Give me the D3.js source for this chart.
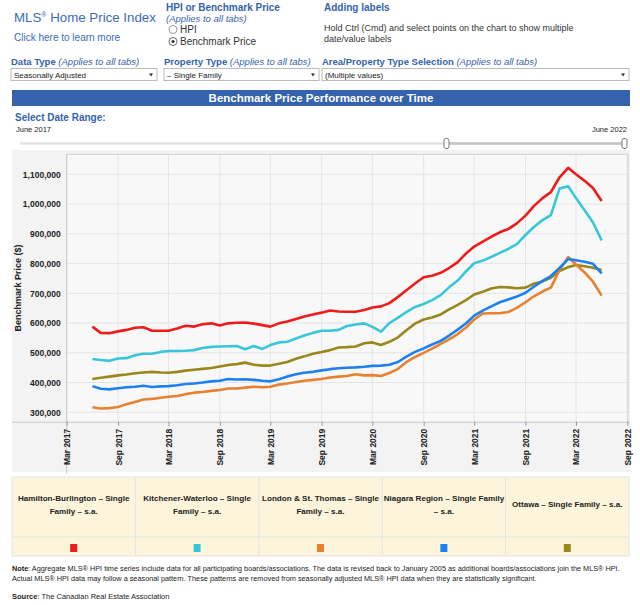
<html>
<head>
  <meta charset="utf-8">
  <title>MLS Home Price Index</title>
  <style>
    body { margin: 0; padding: 0; background: #ffffff; font-family: 'Liberation Sans', Arial, sans-serif; }
    svg text { font-family: 'Liberation Sans', Arial, sans-serif; }
  </style>
  <script src="https://d3js.org/d3.v7.min.js"></script>
</head>
<body>
  <div id="chart"></div>
  <script>
    // monthly benchmark prices, June 2017 to June 2022 (thousands of $)
    const startMonth = new Date(2017, 5, 1);
    const endMonth = new Date(2022, 6, 1);

    const hamilton = [588,567,566,572,577,584,586,574,574,574,582,591,588,596,599,592,599,601,
      602,598,593,588,599,605,614,622,629,635,642,639,638,638,644,652,656,
      667,688,710,733,754,759,769,785,805,835,857,874,890,905,916,
      935,961,993,1020,1040,1090,1122,1100,1078,1054,1010];
    const kitchener = [479,476,473,481,482,492,497,497,503,506,506,507,509,516,520,521,522,523,
      512,523,513,526,535,537,548,558,567,574,574,577,590,595,599,587,571,
      600,618,637,654,664,677,694,720,743,775,801,810,822,836,849,
      865,896,923,946,963,1052,1060,1020,979,938,878];
    const london = [317,313,314,318,327,335,343,345,349,352,355,361,366,368,372,375,380,380,
      383,386,384,386,393,397,402,406,409,412,417,420,422,428,424,425,422,
      432,446,469,486,500,514,530,545,563,586,612,632,633,633,637,
      651,670,690,706,719,778,822,797,770,739,692];
    const niagara = [388,379,377,381,384,386,389,385,387,388,391,395,397,400,404,406,412,410,
      411,409,406,404,411,420,428,433,436,441,445,448,450,451,453,456,457,
      460,469,487,503,515,528,540,558,578,600,625,642,656,670,679,
      689,702,722,742,758,785,815,811,806,799,767];
    const ottawa = [412,416,420,424,427,431,434,436,434,433,436,440,443,446,449,454,459,462,
      467,460,457,457,463,469,480,488,497,503,509,518,519,521,532,535,526,
      537,552,576,598,612,619,629,646,661,678,696,705,716,721,720,
      717,719,732,740,752,775,788,795,791,786,778];

    const seriesNames = [
      ['Hamilton-Burlington \u2013 Single', 'Family \u2013 s.a.'],
      ['Kitchener-Waterloo \u2013 Single', 'Family \u2013 s.a.'],
      ['London & St. Thomas \u2013 Single', 'Family \u2013 s.a.'],
      ['Niagara Region \u2013 Single Family', '\u2013 s.a.'],
      ['Ottawa \u2013 Single Family \u2013 s.a.']
    ];
    const seriesColors = ['#ee1b1b', '#38c6d9', '#e8812f', '#1c80f2', '#9a861a'];
    const yTicks = [300000, 400000, 500000, 600000, 700000, 800000, 900000, 1000000, 1100000];
    const xTickMonths = ['2017-03', '2017-09', '2018-03', '2018-09', '2019-03', '2019-09',
      '2020-03', '2020-09', '2021-03', '2021-09', '2022-03', '2022-09'];

    const blue = '#3363ad';
    const W = 640, H = 605;

    const svg = d3.select('#chart').append('svg')
      .attr('width', W).attr('height', H);

    // ---------- header controls ----------
    svg.append('text').attr('x', 14).attr('y', 22)
      .attr('fill', '#3a6cb4').attr('font-size', 13.3)
      .html('MLS<tspan font-size="7" dy="-5">\u00AE</tspan><tspan dy="5"> Home Price Index</tspan>');
    svg.append('text').attr('x', 14).attr('y', 41).attr('fill', '#3a6cb4')
      .attr('font-size', 10).text('Click here to learn more');

    svg.append('text').attr('x', 166).attr('y', 11).attr('fill', blue)
      .attr('font-size', 10).attr('font-weight', 'bold').text('HPI or Benchmark Price');
    svg.append('text').attr('x', 166).attr('y', 22).attr('fill', blue)
      .attr('font-size', 9.5).attr('font-style', 'italic').text('(Applies to all tabs)');
    svg.append('circle').attr('cx', 173).attr('cy', 29.5).attr('r', 4)
      .attr('fill', '#fff').attr('stroke', '#999');
    svg.append('text').attr('x', 180).attr('y', 33).attr('fill', '#333')
      .attr('font-size', 10).text('HPI');
    svg.append('circle').attr('cx', 173).attr('cy', 41.5).attr('r', 4)
      .attr('fill', '#fff').attr('stroke', '#666');
    svg.append('circle').attr('cx', 173).attr('cy', 41.5).attr('r', 1.6).attr('fill', '#333');
    svg.append('text').attr('x', 180).attr('y', 45).attr('fill', '#333')
      .attr('font-size', 10).text('Benchmark Price');

    svg.append('text').attr('x', 324).attr('y', 11).attr('fill', blue)
      .attr('font-size', 10).attr('font-weight', 'bold').text('Adding labels');
    svg.append('text').attr('x', 324).attr('y', 31).attr('fill', '#333')
      .attr('font-size', 9).text('Hold Ctrl (Cmd) and select points on the chart to show multiple');
    svg.append('text').attr('x', 324).attr('y', 42).attr('fill', '#333')
      .attr('font-size', 9).text('date/value labels');

    const dropdowns = [
      { x: 11, w: 146, label: 'Data Type', value: 'Seasonally Adjusted' },
      { x: 164, w: 155, label: 'Property Type', value: '\u2013 Single Family' },
      { x: 322, w: 307, label: 'Area/Property Type Selection', value: '(Multiple values)' }
    ];
    dropdowns.forEach(d => {
      const t = svg.append('text').attr('x', d.x).attr('y', 65).attr('font-size', 9.5).attr('fill', blue);
      t.append('tspan').attr('font-weight', 'bold').text(d.label + ' ');
      t.append('tspan').attr('font-style', 'italic').text('(Applies to all tabs)');
      svg.append('rect').attr('x', d.x).attr('y', 68.5).attr('width', d.w).attr('height', 12)
        .attr('fill', '#fff').attr('stroke', '#bbb');
      svg.append('text').attr('x', d.x + 3).attr('y', 77.5).attr('font-size', 8)
        .attr('fill', '#222').text(d.value);
      svg.append('path')
        .attr('d', `M${d.x + d.w - 8},73.5 l4,0 l-2,3 z`).attr('fill', '#333');
    });

    // title bar
    svg.append('rect').attr('x', 12).attr('y', 90).attr('width', 618).attr('height', 16)
      .attr('fill', '#3462ad');
    svg.append('text').attr('x', 321).attr('y', 102).attr('text-anchor', 'middle')
      .attr('fill', '#fff').attr('font-size', 11.5).attr('font-weight', 'bold')
      .text('Benchmark Price Performance over Time');

    // date range slider
    svg.append('text').attr('x', 15).attr('y', 121).attr('fill', blue)
      .attr('font-size', 10).attr('font-weight', 'bold').text('Select Date Range:');
    svg.append('text').attr('x', 16).attr('y', 132).attr('fill', '#222')
      .attr('font-size', 7.5).text('June 2017');
    svg.append('text').attr('x', 627).attr('y', 132).attr('text-anchor', 'end').attr('fill', '#222')
      .attr('font-size', 7.5).text('June 2022');
    svg.append('line').attr('x1', 20).attr('x2', 625).attr('y1', 143.5).attr('y2', 143.5)
      .attr('stroke', '#e2e2e2').attr('stroke-width', 2.5);
    svg.append('line').attr('x1', 447).attr('x2', 623).attr('y1', 143.5).attr('y2', 143.5)
      .attr('stroke', '#c4c4c4').attr('stroke-width', 2.5);
    [444, 622].forEach(hx => {
      svg.append('rect').attr('x', hx).attr('y', 138.5).attr('width', 5).attr('height', 10)
        .attr('rx', 2).attr('fill', '#fff').attr('stroke', '#777');
    });

    // ---------- chart ----------
    const plot = { left: 66.7, right: 628, top: 154.3, bottom: 421.7 };

    svg.append('rect').attr('x', 12).attr('y', 150).attr('width', 618).attr('height', 322)
      .attr('fill', '#f3f3f3');
    svg.append('rect').attr('x', plot.left).attr('y', plot.top)
      .attr('width', plot.right - plot.left).attr('height', plot.bottom - plot.top)
      .attr('fill', '#f8f8f8');

    const parseMonth = d3.timeParse('%Y-%m');
    const xTicks = xTickMonths.map(parseMonth);

    const x = d3.scaleTime()
      .domain([xTicks[0], xTicks[xTicks.length - 1]])
      .range([plot.left, 627.3]);
    const y = d3.scaleLinear()
      .domain([300000, 1100000])
      .range([412.3, 174.3]);

    svg.append('g').selectAll('line').data(yTicks).join('line')
      .attr('x1', plot.left).attr('x2', plot.right)
      .attr('y1', d => y(d)).attr('y2', d => y(d))
      .attr('stroke', '#e4e4e4');
    svg.append('g').selectAll('line').data(xTicks).join('line')
      .attr('x1', d => x(d)).attr('x2', d => x(d))
      .attr('y1', plot.top).attr('y2', plot.bottom)
      .attr('stroke', '#e4e4e4');

    // frame
    svg.append('path')
      .attr('d', `M${plot.left},${plot.top}H${plot.right}V${plot.bottom}`)
      .attr('fill', 'none').attr('stroke', '#d0d0d0');

    const yAxis = svg.append('g')
      .attr('transform', `translate(${plot.left},0)`)
      .call(d3.axisLeft(y).tickValues(yTicks).tickFormat(d3.format(',')).tickSize(0).tickPadding(6));
    yAxis.select('.domain').remove();
    yAxis.selectAll('text').attr('font-size', 8.5).attr('font-weight', 'bold').attr('fill', '#222')
      .style('font-family', "'Liberation Sans', Arial, sans-serif");
    svg.append('line').attr('x1', plot.left).attr('x2', plot.left)
      .attr('y1', plot.top).attr('y2', 474).attr('stroke', '#c8c8c8');

    const xAxis = svg.append('g')
      .attr('transform', `translate(0,${plot.bottom})`)
      .call(d3.axisBottom(x).tickValues(xTicks).tickFormat(d3.timeFormat('%b %Y')).tickSize(4));
    xAxis.select('.domain').attr('stroke', '#c8c8c8').attr('d', `M12,0.5H630`);
    xAxis.selectAll('.tick line').attr('stroke', '#999');
    xAxis.selectAll('text')
      .attr('font-size', 8.5).attr('font-weight', 'bold').attr('fill', '#222')
      .style('font-family', "'Liberation Sans', Arial, sans-serif")
      .attr('text-anchor', 'end')
      .attr('transform', 'rotate(-90)')
      .attr('x', -7).attr('y', 0).attr('dy', '0.35em');

    svg.append('text')
      .attr('transform', 'translate(21,288) rotate(-90)')
      .attr('text-anchor', 'middle').attr('font-size', 9).attr('font-weight', 'bold')
      .attr('fill', '#222').text('Benchmark Price ($)');

    const months = d3.timeMonth.range(startMonth, endMonth);
    const allSeries = [hamilton, kitchener, london, niagara, ottawa];
    const line = d3.line()
      .x((d, i) => x(months[i]))
      .y(d => y(d * 1000));

    // draw in back-to-front order similar to the original
    [4, 2, 3, 1, 0].forEach(k => {
      svg.append('path')
        .datum(allSeries[k])
        .attr('d', line)
        .attr('fill', 'none')
        .attr('stroke', seriesColors[k])
        .attr('stroke-width', 2.6)
        .attr('stroke-linejoin', 'round');
    });

    // ---------- legend table ----------
    const lg = { x: 12, y: 477, w: 617, h: 79, sep: 537 };
    const colW = lg.w / seriesNames.length;
    svg.append('rect').attr('x', lg.x).attr('y', lg.y).attr('width', lg.w).attr('height', lg.h)
      .attr('fill', '#fdf5db').attr('stroke', '#e3e3e3');
    svg.append('line').attr('x1', lg.x).attr('x2', lg.x + lg.w).attr('y1', lg.sep).attr('y2', lg.sep)
      .attr('stroke', '#e3e3e3');
    seriesNames.forEach((name, i) => {
      const cx = lg.x + colW * i + colW / 2;
      if (i > 0) {
        svg.append('line').attr('x1', lg.x + colW * i).attr('x2', lg.x + colW * i)
          .attr('y1', lg.y).attr('y2', lg.y + lg.h).attr('stroke', '#e3e3e3');
      }
      const t = svg.append('text').attr('text-anchor', 'middle')
        .attr('font-size', 8.1).attr('font-weight', 'bold').attr('fill', '#222');
      const y0 = name.length === 1 ? 507 : 501;
      name.forEach((ln, j) => {
        t.append('tspan').attr('x', cx).attr('y', y0 + j * 12.5).text(ln);
      });
      svg.append('rect').attr('x', cx - 3.5).attr('y', 544).attr('width', 7).attr('height', 8)
        .attr('fill', seriesColors[i]);
    });

    // ---------- notes ----------
    const n1 = svg.append('text').attr('x', 12).attr('y', 571).attr('font-size', 7.3).attr('fill', '#222');
    n1.append('tspan').attr('font-weight', 'bold').text('Note');
    n1.append('tspan').text(': Aggregate MLS\u00AE HPI time series include data for all participating boards/associations. The data is revised back to January 2005 as additional boards/associations join the MLS\u00AE HPI.');
    svg.append('text').attr('x', 12).attr('y', 581).attr('font-size', 7.3).attr('fill', '#222')
      .text('Actual MLS\u00AE HPI data may follow a seasonal pattern. These patterns are removed from seasonally adjusted MLS\u00AE HPI data when they are statistically significant.');
    const n2 = svg.append('text').attr('x', 12).attr('y', 599).attr('font-size', 7.5).attr('fill', '#222');
    n2.append('tspan').attr('font-weight', 'bold').text('Source');
    n2.append('tspan').text(': The Canadian Real Estate Association');
  </script>
</body>
</html>
